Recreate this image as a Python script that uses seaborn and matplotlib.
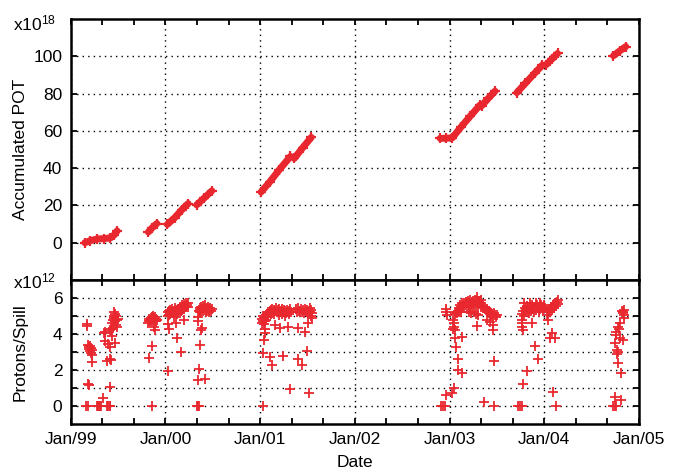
import numpy as np
import pandas as pd
import matplotlib
matplotlib.use("Agg")
import matplotlib.pyplot as plt
from matplotlib.ticker import MultipleLocator, FixedLocator
import seaborn as sns

# accumulated POT (x1e18), one list entry per point, run = continuous segment
pot_dates = [1999.15, 1999.20, 1999.28, 1999.35, 1999.42, 1999.46, 1999.49,
             1999.82, 1999.86, 1999.91,
             2000.02, 2000.10, 2000.17, 2000.24,
             2000.33, 2000.41, 2000.49,
             2001.01, 2001.10, 2001.20, 2001.32,
             2001.36, 2001.45, 2001.54,
             2002.90, 2002.96, 2003.03, 2003.12, 2003.22, 2003.32,
             2003.34, 2003.41, 2003.48,
             2003.71, 2003.80, 2003.90, 2003.98,
             2004.02, 2004.08, 2004.14,
             2004.73, 2004.80, 2004.86]
pot_values = [0.0, 1.0, 2.0, 2.2, 2.6, 4.2, 6.3,
              5.7, 8.0, 10.3,
              9.8, 13.5, 17.5, 21.0,
              20.3, 24.0, 27.8,
              27.2, 32.5, 39.0, 46.3,
              45.2, 51.0, 56.5,
              56.0, 56.0, 56.3, 62.0, 68.0, 73.8,
              73.5, 77.5, 81.3,
              80.5, 85.5, 91.0, 95.3,
              95.5, 98.5, 101.5,
              100.3, 103.0, 105.2]
pot_run = [0] * 7 + [1] * 3 + [2] * 4 + [3] * 3 + [4] * 4 + [5] * 3 + \
          [6] * 6 + [7] * 3 + [8] * 4 + [9] * 3 + [10] * 3

# protons per spill (x1e12)
spill_dates = [
    # spring 1999
    1999.17, 1999.17, 1999.18, 1999.19, 1999.19, 1999.20, 1999.20, 1999.21, 1999.21, 1999.22,
    1999.22, 1999.23, 1999.18, 1999.19, 1999.16, 1999.18,
    1999.28, 1999.29, 1999.30, 1999.31, 1999.32, 1999.38, 1999.39, 1999.41, 1999.42,
    1999.34, 1999.41, 1999.35, 1999.36, 1999.36, 1999.39, 1999.41, 1999.38, 1999.42, 1999.43,
    1999.42, 1999.43, 1999.44, 1999.44, 1999.45, 1999.45, 1999.46, 1999.46, 1999.47, 1999.47,
    1999.48, 1999.48, 1999.49, 1999.47, 1999.49, 1999.46, 1999.50,
    # autumn 1999
    1999.82, 1999.83, 1999.83, 1999.84, 1999.85, 1999.85, 1999.86, 1999.86, 1999.87, 1999.87,
    1999.88, 1999.88, 1999.89, 1999.89, 1999.90, 1999.90, 1999.91, 1999.88, 1999.89, 1999.86,
    1999.83, 1999.86,
    # early 2000
    2000.03, 2000.03, 2000.04, 2000.04, 2000.05, 2000.05, 2000.06, 2000.07, 2000.07, 2000.08,
    2000.09, 2000.10, 2000.10, 2000.11, 2000.12, 2000.12, 2000.13, 2000.14, 2000.15, 2000.15,
    2000.16, 2000.17, 2000.18, 2000.18, 2000.19, 2000.20, 2000.20, 2000.21, 2000.22, 2000.22,
    2000.23, 2000.24, 2000.24,
    2000.03, 2000.04, 2000.12, 2000.11, 2000.16, 2000.03, 2000.20, 2000.09,
    # mid 2000
    2000.35, 2000.36, 2000.36, 2000.37, 2000.38, 2000.38, 2000.39, 2000.40, 2000.40, 2000.41,
    2000.42, 2000.42, 2000.43, 2000.44, 2000.44, 2000.45, 2000.46, 2000.46, 2000.47, 2000.48,
    2000.49,
    2000.34, 2000.34, 2000.39, 2000.38, 2000.37, 2000.35, 2000.34, 2000.42, 2000.33, 2000.34,
    2000.35,
    # 2001
    2001.02, 2001.02, 2001.03, 2001.03, 2001.04, 2001.04, 2001.05, 2001.06, 2001.06, 2001.07,
    2001.08, 2001.08, 2001.09, 2001.10, 2001.11, 2001.11, 2001.12, 2001.13, 2001.14, 2001.15,
    2001.15, 2001.16, 2001.17, 2001.18, 2001.19, 2001.20, 2001.20, 2001.21, 2001.22, 2001.23,
    2001.23, 2001.24, 2001.25, 2001.26, 2001.26, 2001.27, 2001.28, 2001.29, 2001.30, 2001.31,
    2001.32, 2001.33,
    2001.38, 2001.39, 2001.40, 2001.41, 2001.42, 2001.43, 2001.44, 2001.45, 2001.46, 2001.47,
    2001.48, 2001.49, 2001.50, 2001.51, 2001.52, 2001.53, 2001.53, 2001.54, 2001.54, 2001.55,
    2001.55,
    2001.03, 2001.03, 2001.04, 2001.05, 2001.05, 2001.10, 2001.13, 2001.16, 2001.21, 2001.24,
    2001.29, 2001.32, 2001.40, 2001.40, 2001.44, 2001.47, 2001.50, 2001.51, 2001.52,
    # early 2003
    2002.91, 2002.93, 2002.95, 2002.96, 2002.96, 2002.97, 2002.96, 2003.03, 2003.05,
    2003.06, 2003.07, 2003.08, 2003.09, 2003.10, 2003.11, 2003.12,
    2003.04, 2003.05, 2003.05, 2003.06, 2003.04,
    2003.06, 2003.13, 2003.07, 2003.09, 2003.09, 2003.13,
    2003.10, 2003.11, 2003.12, 2003.13, 2003.14, 2003.15, 2003.16, 2003.17, 2003.18, 2003.18,
    2003.19, 2003.20, 2003.21, 2003.22, 2003.22, 2003.23, 2003.24, 2003.25, 2003.26, 2003.27,
    2003.28, 2003.29, 2003.29, 2003.30, 2003.31, 2003.32, 2003.33, 2003.33,
    2003.20, 2003.23, 2003.26, 2003.28, 2003.29, 2003.30,
    2003.35, 2003.36, 2003.37, 2003.38, 2003.39, 2003.40, 2003.41, 2003.42, 2003.43, 2003.44,
    2003.45, 2003.46, 2003.47, 2003.48, 2003.49, 2003.50,
    2003.39, 2003.43, 2003.46, 2003.46, 2003.47, 2003.36, 2003.47,
    # autumn 2003 / early 2004
    2003.72, 2003.74, 2003.76, 2003.78, 2003.82, 2003.76, 2003.77, 2003.77, 2003.78,
    2003.77, 2003.78, 2003.79, 2003.80, 2003.81, 2003.82, 2003.83, 2003.84, 2003.85, 2003.86,
    2003.87, 2003.88, 2003.89, 2003.90, 2003.91, 2003.92, 2003.93, 2003.94, 2003.95, 2003.96,
    2003.97, 2003.98, 2003.99, 2004.00, 2004.01, 2003.79, 2003.85, 2003.91, 2003.96,
    2003.87, 2003.90, 2003.93,
    2004.03, 2004.04, 2004.05, 2004.06, 2004.07, 2004.08, 2004.09, 2004.10, 2004.11, 2004.12,
    2004.13, 2004.14, 2004.14,
    2004.04, 2004.08, 2004.06, 2004.11, 2004.09, 2004.12,
    # late 2004
    2004.82, 2004.83, 2004.84, 2004.84, 2004.83, 2004.80, 2004.78, 2004.76, 2004.76, 2004.83,
    2004.75, 2004.78, 2004.78, 2004.81, 2004.75, 2004.81, 2004.73, 2004.75, 2004.76, 2004.77,
    2004.77, 2004.79, 2004.80, 2004.84,
]
spill_values = [
    4.55, 4.45, 3.40, 3.30, 3.15, 3.35, 3.05, 3.20, 2.95, 3.10,
    2.85, 2.45, 1.25, 1.15, 0.00, 0.00,
    0.00, 0.00, 0.00, 0.00, 0.00, 0.00, 0.00, 0.00, 0.00,
    0.45, 1.05, 4.05, 4.12, 3.60, 3.45, 3.30, 2.50, 2.60, 2.55,
    4.20, 4.30, 3.90, 4.60, 4.80, 4.35, 5.00, 4.90, 5.10, 4.70,
    5.00, 4.50, 4.80, 3.50, 4.40, 5.20, 4.85,
    4.60, 4.75, 4.85, 4.70, 4.90, 4.80, 4.95, 4.70, 4.85, 5.00,
    4.80, 4.90, 4.75, 4.95, 4.85, 4.70, 4.80, 4.40, 4.20, 3.33,
    2.65, 0.00,
    5.00, 5.20, 5.05, 5.30, 5.10, 5.35, 5.20, 5.25, 5.40, 5.15,
    5.30, 5.20, 5.45, 5.30, 5.10, 5.35, 5.25, 5.40, 5.15, 5.50,
    5.30, 5.45, 5.60, 5.35, 5.50, 5.65, 5.40, 5.55, 5.70, 5.50,
    5.60, 5.75, 5.50,
    4.55, 4.30, 3.76, 4.60, 3.02, 1.97, 4.80, 4.95,
    5.30, 5.45, 5.20, 5.35, 5.50, 5.25, 5.40, 5.55, 5.30, 5.45,
    5.35, 5.60, 5.25, 5.45, 5.30, 5.50, 5.35, 5.20, 5.45, 5.30,
    5.40,
    4.96, 4.70, 4.35, 4.25, 3.39, 2.04, 1.44, 1.48, 0.00, 0.00,
    0.00,
    4.60, 4.85, 4.70, 5.00, 4.55, 4.90, 4.75, 5.00, 4.80, 5.10,
    5.20, 4.95, 5.25, 5.30, 5.10, 5.35, 5.20, 5.40, 5.25, 5.35,
    5.10, 5.30, 5.45, 5.20, 5.35, 5.05, 5.40, 5.25, 5.30, 5.10,
    5.40, 5.20, 5.35, 5.00, 5.30, 5.15, 5.35, 5.25, 5.10, 5.30,
    5.40, 5.20,
    5.40, 5.25, 5.45, 5.30, 5.20, 5.40, 5.25, 5.35, 5.15, 5.40,
    5.30, 5.20, 5.35, 5.10, 5.30, 5.45, 5.20, 5.00, 5.35, 4.90,
    5.15,
    0.00, 2.93, 3.67, 4.07, 4.30, 2.74, 2.28, 4.50, 4.35, 2.80,
    4.40, 0.93, 4.35, 2.60, 2.28, 4.13, 3.07, 4.60, 0.72,
    0.00, 0.00, 0.00, 5.40, 5.20, 5.05, 0.60, 0.70, 0.98,
    5.10, 5.25, 5.15, 5.30, 5.20, 5.35, 5.25,
    4.80, 4.60, 4.40, 4.25, 4.30,
    3.76, 3.81, 3.30, 2.60, 2.00, 1.85,
    5.45, 5.60, 5.50, 5.70, 5.55, 5.75, 5.60, 5.80, 5.50, 5.70,
    5.85, 5.60, 5.75, 5.50, 5.90, 5.65, 5.80, 5.55, 5.75, 5.90,
    5.65, 6.05, 5.80, 5.60, 5.85, 5.70, 5.50, 5.90,
    5.20, 5.15, 5.25, 5.10, 4.44, 5.05,
    5.55, 5.45, 5.50, 5.35, 5.40, 5.25, 5.30, 5.15, 5.20, 5.05,
    5.10, 5.00, 5.15, 5.05, 4.95, 5.05,
    4.78, 4.68, 4.50, 4.22, 2.52, 0.24, 0.00,
    0.00, 0.00, 0.00, 1.20, 1.96, 4.80, 4.60, 4.40, 4.25,
    5.10, 5.30, 5.00, 5.45, 5.20, 5.55, 5.35, 5.15, 5.50, 5.30,
    5.60, 5.40, 5.20, 5.50, 5.35, 5.60, 5.45, 5.25, 5.55, 5.40,
    5.60, 5.50, 5.35, 5.60, 5.45, 5.70, 5.75, 5.75, 5.70,
    4.60, 3.33, 2.60,
    5.05, 5.25, 5.40, 5.20, 5.50, 5.35, 5.60, 5.45, 5.70, 5.55,
    5.80, 5.65, 5.90,
    4.78, 4.05, 3.80, 3.80, 0.80, 0.00,
    5.30, 5.20, 5.05, 4.90, 5.15, 4.60, 4.40, 4.13, 3.94, 3.67,
    3.48, 3.02, 2.40, 1.85, 0.52, 0.33, 0.00, 0.00, 0.00, 2.90,
    3.10, 4.30, 3.80, 5.35,
]

year_ticks = [1999, 2000, 2001, 2002, 2003, 2004, 2005]
year_labels = ["Jan/99", "Jan/00", "Jan/01", "Jan/02", "Jan/03", "Jan/04", "Jan/05"]

sns.set_style("ticks", {"axes.edgecolor": "black", "text.color": "black",
                        "axes.labelcolor": "black", "xtick.color": "black",
                        "ytick.color": "black"})
plt.rcParams["font.family"] = ["Liberation Sans", "DejaVu Sans"]
plt.rcParams["mathtext.fontset"] = "custom"
plt.rcParams["mathtext.rm"] = "Liberation Sans"
plt.rcParams["mathtext.it"] = "Liberation Sans"

red = "#e8272e"
fs = 12.5

pot = pd.DataFrame({"date": pot_dates, "pot": pot_values, "run": pot_run})
spill = pd.DataFrame({"date": spill_dates, "pps": spill_values})

fig = plt.figure(figsize=(6.76, 4.72), dpi=100)
ax1 = fig.add_axes([70.7 / 676, 1 - 280 / 472, 568.3 / 676, 261 / 472])
ax2 = fig.add_axes([70.7 / 676, 1 - 424 / 472, 568.3 / 676, 144 / 472])

sns.lineplot(data=pot, x="date", y="pot", units="run", estimator=None, sort=False,
             color=red, lw=5, marker="+", markersize=7, mew=1.6, mec=red,
             ax=ax1, zorder=3)
sns.scatterplot(data=spill, x="date", y="pps", marker="+", color=red, s=45,
                linewidth=1.3, ax=ax2, zorder=3)

grid_kw = dict(color="black", linestyle=(0, (1, 3)), linewidth=1.0)
for ax in (ax1, ax2):
    ax.set_xlim(1999, 2005)
    ax.xaxis.set_major_locator(FixedLocator(year_ticks))
    ax.xaxis.set_minor_locator(MultipleLocator(1 / 3))
    ax.tick_params(which="both", direction="in", top=True, right=True,
                   length=4, width=1.3, labelsize=fs, pad=6, colors="black")
    for s in ax.spines.values():
        s.set_linewidth(1.8)
        s.set_color("black")
    ax.grid(True, which="major", axis="x", **grid_kw)
    ax.set_xlabel("")

ax1.set_ylim(-20, 120)
ax1.yaxis.set_major_locator(FixedLocator([0, 20, 40, 60, 80, 100]))
ax1.grid(True, which="major", axis="y", **grid_kw)
ax1.tick_params(axis="x", labelbottom=False)
ax1.set_ylabel("Accumulated POT", fontsize=fs, color="black")
ax1.yaxis.set_label_coords(-0.075, 0.5)

ax2.set_ylim(-1, 7)
ax2.yaxis.set_major_locator(FixedLocator([0, 2, 4, 6]))
ax2.yaxis.set_minor_locator(FixedLocator([1, 3, 5]))
ax2.grid(True, which="both", axis="y", **grid_kw)
ax2.set_xticklabels(year_labels)
ax2.set_ylabel("Protons/Spill", fontsize=fs, color="black")
ax2.yaxis.set_label_coords(-0.075, 0.5)
ax2.set_xlabel("Date", fontsize=fs, color="black")
ax2.xaxis.set_label_coords(0.5, -0.215)

fig.text(13 / 676, 1 - 30 / 472, r"x10$^{18}$", fontsize=fs, va="baseline", color="black")
fig.text(13 / 676, 1 - 288 / 472, r"x10$^{12}$", fontsize=fs, va="baseline", color="black")

fig.savefig("out.png", dpi=100)
